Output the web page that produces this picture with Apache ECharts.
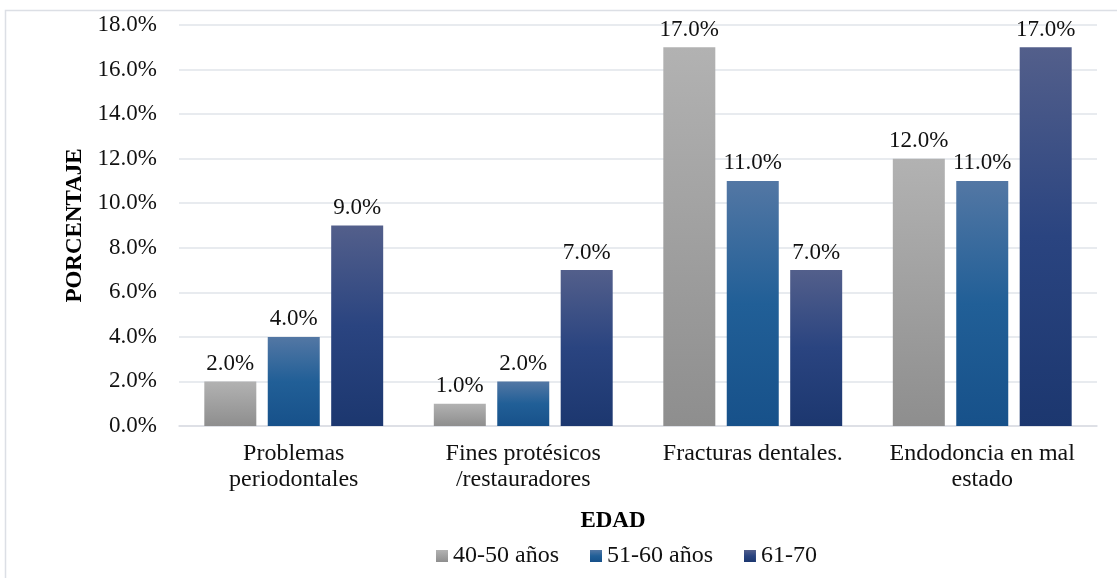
<!DOCTYPE html>
<html>
<head>
<meta charset="utf-8">
<script src="https://cdn.jsdelivr.net/npm/echarts@6/dist/echarts.min.js"></script>
<style>
html,body{margin:0;padding:0;background:#fff;}
#c{width:1117px;height:578px;}
</style>
</head>
<body>
<div id="c"></div>
<script>
const categories = ["Problemas\nperiodontales", "Fines protésicos\n/restauradores", "Fracturas dentales.", "Endodoncia en mal\nestado"];
const seriesNames = ["40-50 años", "51-60 años", "61-70"];
const s4050 = [2.0, 1.0, 17.0, 12.0];
const s5160 = [4.0, 2.0, 11.0, 11.0];
const s6170 = [9.0, 7.0, 7.0, 17.0];
const yTicks = [0, 2, 4, 6, 8, 10, 12, 14, 16, 18];

const FONT = 'Liberation Serif';
function grad(stops) {
  return new echarts.graphic.LinearGradient(0, 0, 0, 1, stops.map((c, i) => ({offset: i / (stops.length - 1), color: c})));
}
const colors = [
  grad(['#b2b2b2', '#a0a0a0', '#8e8e8e']),
  grad(['#5377a4', '#215f97', '#17518a']),
  grad(['#535f8b', '#2a4480', '#1c376f'])
];
const dataSets = [s4050, s5160, s6170];
const legendText = {fontFamily: FONT, fontSize: 24, color: '#111'};

const chart = echarts.init(document.getElementById('c'), null, {renderer: 'canvas'});
chart.setOption({
  animation: false,
  backgroundColor: '#fff',
  textStyle: {fontFamily: FONT},
  graphic: [{
    type: 'rect', silent: true, z: -1,
    shape: {x: 5.5, y: 10.5, width: 1300, height: 800},
    style: {fill: 'none', stroke: '#dcdfe5', lineWidth: 1.5}
  }],
  grid: {left: 179, right: 20, top: 25, bottom: 152, containLabel: false},
  legend: {
    bottom: 5, left: 431,
    itemWidth: 12, itemHeight: 12, itemGap: 31,
    icon: 'rect',
    textStyle: legendText,
    data: seriesNames
  },
  xAxis: {
    type: 'category',
    data: categories,
    name: 'EDAD',
    nameLocation: 'middle',
    nameGap: 84,
    nameTextStyle: {fontFamily: FONT, fontSize: 23, fontWeight: 'bold', color: '#000', padding: [0, 50, 0, 0]},
    axisLine: {show: true, lineStyle: {color: '#dadde3', width: 1.5}},
    axisTick: {show: false},
    axisLabel: {fontFamily: FONT, fontSize: 24, color: '#111', margin: 15, lineHeight: 26, interval: 0}
  },
  yAxis: {
    type: 'value',
    min: 0, max: 18, interval: 2,
    name: 'PORCENTAJE',
    nameLocation: 'middle',
    nameGap: 89,
    nameRotate: 90,
    nameTextStyle: {fontFamily: FONT, fontSize: 23, fontWeight: 'bold', color: '#000'},
    axisLine: {show: false},
    axisTick: {show: false},
    splitLine: {lineStyle: {color: '#e1e4ea', width: 1.5}},
    axisLabel: {fontFamily: FONT, fontSize: 23, color: '#111', margin: 22,
      formatter: v => yTicks.includes(v) ? v.toFixed(1) + '%' : ''}
  },
  series: seriesNames.map((n, i) => ({
    name: n,
    type: 'bar',
    data: dataSets[i],
    barWidth: 52,
    barGap: '22%',
    itemStyle: {color: colors[i]},
    label: {
      show: true, position: 'top', distance: 6,
      fontFamily: FONT, fontSize: 23, color: '#111',
      formatter: p => p.value.toFixed(1) + '%'
    }
  }))
});
</script>
</body>
</html>
